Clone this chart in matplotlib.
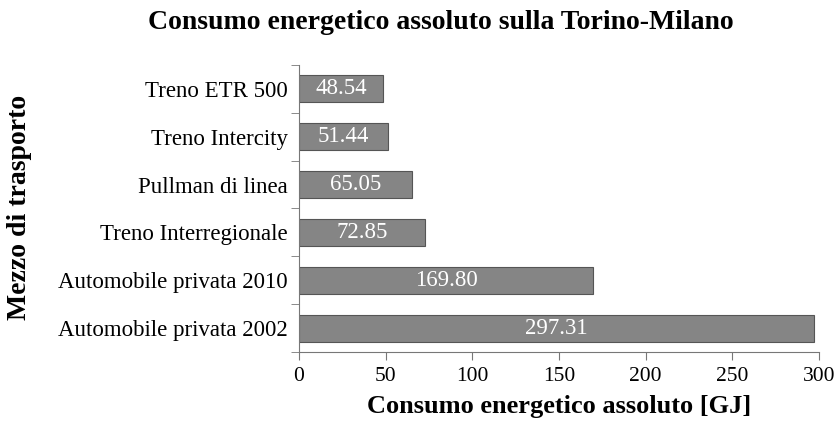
import matplotlib
matplotlib.use("Agg")
import matplotlib.pyplot as plt
import numpy as np

categories = ["Automobile privata 2002", "Automobile privata 2010", "Treno Interregionale",
              "Pullman di linea", "Treno Intercity", "Treno ETR 500"]
values = [297.31, 169.80, 72.85, 65.05, 51.44, 48.54]
xticks = [0, 50, 100, 150, 200, 250, 300]

plt.rcParams['font.family'] = ['Liberation Serif', 'DejaVu Serif']

fig = plt.figure(figsize=(8.4, 4.33), dpi=100)
ax = fig.add_axes([0.356, 0.187, 0.619, 0.663])
y = np.arange(len(categories))
ax.barh(y, values, height=0.56, color="#858585", edgecolor="#555555", linewidth=0.8)
for yi, v in zip(y, values):
    ax.text(v / 2, yi, f"{v:.2f}", ha="center", va="center", color="white", fontsize=16.5)

ax.set_xlim(0, 300)
ax.set_ylim(-0.5, len(categories) - 0.5)
ax.set_xticks(xticks)
ax.set_xticklabels([str(t) for t in xticks], fontsize=15.5)
ax.set_yticks(y)
ax.set_yticklabels(categories, fontsize=16.5)
ax.tick_params(axis="y", length=0, pad=8)
ax.set_yticks(np.arange(-0.5, len(categories), 1), minor=True)
ax.tick_params(axis="y", which="minor", length=6, color="#777777")
ax.tick_params(axis="x", length=6, color="#777777", pad=5)
for s in ["top", "right"]:
    ax.spines[s].set_visible(False)
for s in ["left", "bottom"]:
    ax.spines[s].set_color("#777777")

ax.set_xlabel("Consumo energetico assoluto [GJ]", fontsize=19, fontweight="bold", labelpad=6)
fig.text(20 / 840, 0.52, "Mezzo di trasporto", rotation=90, ha="center", va="center",
         fontsize=20, fontweight="bold")
fig.text(0.525, 0.948, "Consumo energetico assoluto sulla Torino-Milano", ha="center", va="center",
         fontsize=20, fontweight="bold")
fig.savefig("out.png", dpi=100)
